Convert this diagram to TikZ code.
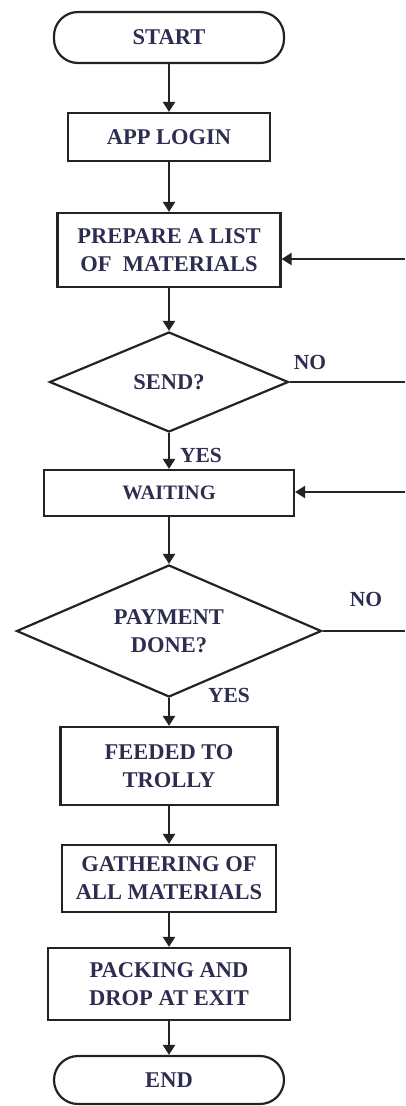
\documentclass[tikz,border=0pt]{standalone}
\usepackage{fontspec}
\setmainfont{Liberation Serif}
\usetikzlibrary{shapes.geometric,arrows.meta}
\definecolor{txt}{RGB}{45,45,80}
\definecolor{ln}{RGB}{35,35,35}
\begin{document}
\begin{tikzpicture}[x=1pt,y=-1pt,
  base/.style={draw=ln,line width=2.2pt,text=txt,inner sep=0pt,align=center,
    font=\fontsize{22.5}{28}\selectfont\bfseries},
  term/.style={base,rounded corners=24pt},
  proc/.style={base},
  dec/.style={base,diamond,aspect=2.3},
  lbl/.style={text=txt,inner sep=0pt,font=\fontsize{21.5}{26}\selectfont\bfseries},
  flow/.style={draw=ln,line width=2.2pt,-{Triangle[length=10pt,width=12pt]}},
  plain/.style={draw=ln,line width=2.2pt}]
\useasboundingbox (0,0) rectangle (405,1106);
\node[term,minimum width=230pt,minimum height=51pt] (start) at (169,37.5) {START};
\node[proc,minimum width=202pt,minimum height=48pt] (login) at (169,137) {APP LOGIN};
\node[proc,minimum width=223pt,minimum height=74pt] (prep) at (169,250) {PREPARE A LIST\\OF\ \ MATERIALS};
\node[dec,minimum width=239pt,minimum height=100pt] (send) at (169,382) {SEND?};
\node[proc,minimum width=250pt,minimum height=46pt,font=\fontsize{20.5}{26}\selectfont\bfseries] (wait) at (169,493) {WAITING};
\node[dec,minimum width=305pt,minimum height=132pt] (pay) at (169,631) {PAYMENT\\DONE?};
\node[proc,minimum width=217pt,minimum height=78pt] (feed) at (169,766) {FEEDED TO\\TROLLY};
\node[proc,minimum width=214pt,minimum height=67pt] (gath) at (169,878.5) {GATHERING OF\\ALL MATERIALS};
\node[proc,minimum width=242pt,minimum height=72pt] (pack) at (169,984) {PACKING AND\\DROP AT EXIT};
\node[term,minimum width=230pt,minimum height=48pt] (end) at (169,1080) {END};

\node[lbl] (no1) at (310,362) {NO};
\node[lbl] (yes1) at (201,455) {YES};
\node[lbl] (no2) at (366,599) {NO};
\node[lbl] (yes2) at (229,695) {YES};

\coordinate (r1) at (405,259);
\coordinate (r2) at (405,382);
\coordinate (r3) at (405,492);
\coordinate (r4) at (405,631);

\draw[flow] (start.south) -- (login.north);
\draw[flow] (login.south) -- (prep.north);
\draw[flow] (prep.south) -- (send.north);
\draw[flow] (send.south) -- (wait.north);
\draw[flow] (wait.south) -- (pay.north);
\draw[flow] (pay.south) -- (feed.north);
\draw[flow] (feed.south) -- (gath.north);
\draw[flow] (gath.south) -- (pack.north);
\draw[flow] (pack.south) -- (end.north);

\draw[plain] (send.east) -- (r2);
\draw[flow] (r1) -- (prep.east |- r1);
\draw[plain] (pay.east) -- (r4);
\draw[flow] (r3) -- (wait.east |- r3);
\end{tikzpicture}
\end{document}
